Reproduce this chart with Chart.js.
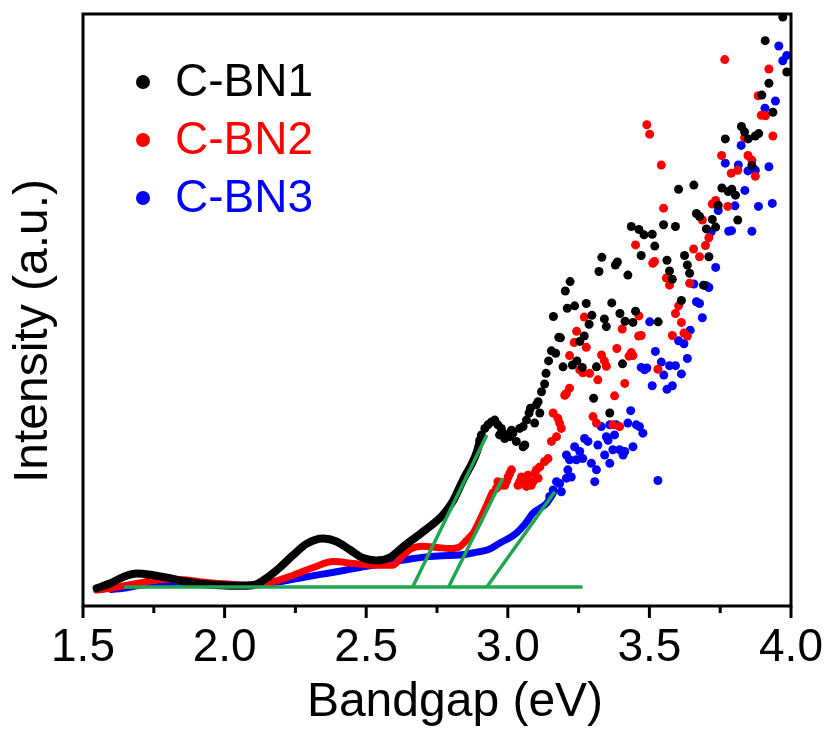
<!DOCTYPE html>
<html>
<head>
<meta charset="utf-8">
<title>Bandgap</title>
<script src="https://cdn.jsdelivr.net/npm/chart.js@4.4.1/dist/chart.umd.min.js"></script>
<style>
  html, body { margin: 0; padding: 0; background: #ffffff; }
  canvas { display: block; }
</style>
</head>
<body>
<canvas id="chart" width="831" height="731"></canvas>
<script>
// Tauc-style bandgap plot for three C-BN samples.
// Each pair is [photon energy (eV), intensity (a.u.)].

const seriesNames = ['C-BN1', 'C-BN2', 'C-BN3'];
const seriesColors = ['#000000', '#ff0000', '#0000ff'];
const fitColor = '#1fa64f';

const xTickValues = [1.5, 2.0, 2.5, 3.0, 3.5, 4.0];

// Smooth low-energy part of each spectrum
const bn1Curve = [
  [1.548,3.0],[1.595,3.8],[1.642,4.9],[1.689,5.5],[1.748,5.2],[1.807,4.7],[1.866,4.1],
  [1.924,3.7],[1.983,3.5],[2.042,3.4],[2.101,3.5],[2.148,4.7],[2.195,6.5],[2.242,8.6],
  [2.289,10.5],[2.348,11.4],[2.395,10.9],[2.442,9.5],[2.489,8.1],[2.536,7.7],[2.583,8.2],
  [2.630,10.0],[2.677,11.7],[2.724,13.4],[2.771,15.4],[2.805,17.6],[2.842,21.3],[2.889,25.8],
  [2.905,28.5]
];
const bn2Curve = [
  [1.548,2.7],[1.600,3.0],[1.642,3.4],[1.700,3.9],[1.748,4.3],[1.810,4.5],[1.866,4.4],
  [1.930,4.0],[1.983,3.8],[2.040,3.6],[2.101,3.5],[2.172,4.1],[2.242,5.2],[2.313,6.5],
  [2.383,7.5],[2.454,7.2],[2.524,6.9],[2.595,6.9],[2.625,8.3],[2.660,9.7],[2.700,10.1],
  [2.750,9.9],[2.795,9.7],[2.830,10.0],[2.854,11.1],[2.877,12.3],[2.901,14.5],[2.925,17.0],
  [2.945,19.2]
];
const bn3Curve = [
  [1.600,2.8],[1.642,3.0],[1.701,3.5],[1.766,3.8],[1.831,4.0],[1.890,3.9],[1.948,3.7],
  [2.007,3.5],[2.066,3.5],[2.148,3.8],[2.242,4.5],[2.300,5.0],[2.360,5.5],[2.420,6.0],
  [2.477,6.5],[2.540,7.0],[2.595,7.5],[2.650,7.9],[2.713,8.3],[2.770,8.5],[2.830,8.6],
  [2.880,9.0],[2.930,9.5],[2.971,10.6],[3.030,12.3],[3.060,13.8],[3.089,15.7],[3.136,17.3],
  [3.160,19.0]
];

// Noisy high-energy readings
const bn1Points = [
  [2.901,28.0],[2.907,28.9],[2.919,30.0],[2.930,30.6],[2.942,31.1],[2.954,31.4],[2.965,30.6],
  [2.971,28.9],[2.977,30.0],[2.983,29.2],[2.989,28.3],[2.995,28.9],[3.007,28.6],[3.013,29.7],
  [3.018,29.2],[3.030,27.8],[3.042,30.0],[3.054,30.3],[3.054,26.9],[3.060,27.2],[3.066,31.4],
  [3.075,32.6],[3.080,33.4],[3.095,30.9],[3.101,34.0],[3.107,34.5],[3.113,32.6],[3.119,36.2],
  [3.130,37.5],[3.135,39.3],[3.144,41.4],[3.154,43.1],[3.161,48.9],[3.169,42.7],[3.180,45.4],
  [3.186,45.3],[3.195,40.4],[3.203,53.2],[3.210,50.3],[3.220,54.8],[3.228,40.7],[3.236,50.7],
  [3.244,41.4],[3.254,44.7],[3.263,40.3],[3.270,45.6],[3.277,51.1],[3.287,47.6],[3.297,49.1],
  [3.303,35.1],[3.313,40.4],[3.322,56.5],[3.332,58.9],[3.341,48.5],[3.348,47.2],[3.360,32.6],
  [3.367,51.2],[3.380,57.6],[3.387,58.1],[3.396,49.4],[3.405,40.9],[3.414,48.1],[3.424,55.9],
  [3.436,64.1],[3.442,47.9],[3.451,49.8],[3.463,63.6],[3.471,59.2],[3.481,62.7],[3.510,62.8],
  [3.519,60.8],[3.531,48.0],[3.550,64.4],[3.562,58.4],[3.571,56.6],[3.581,55.2],[3.592,64.1],
  [3.603,70.4],[3.613,51.6],[3.624,59.2],[3.634,57.6],[3.642,56.2],[3.657,71.1],[3.666,66.3],
  [3.677,65.8],[3.691,54.2],[3.701,63.7],[3.710,59.0],[3.722,65.3],[3.734,64.0],[3.743,67.7],
  [3.756,70.6],[3.768,78.9],[3.778,70.0],[3.791,70.4],[3.804,69.4],[3.812,65.2],[3.825,81.0],
  [3.836,80.1],[3.849,78.9],[3.862,74.4],[3.874,79.4],[3.886,79.8],[3.897,86.3],[3.909,95.5],
  [3.922,88.3],[3.936,83.4],[3.971,99.5],[3.985,90.2]
];
const bn2Points = [
  [2.960,19.9],[2.965,21.0],[2.977,20.4],[2.989,20.4],[2.995,21.0],[3.001,21.8],[3.007,22.4],
  [3.013,23.0],[3.036,20.4],[3.042,21.0],[3.048,21.8],[3.060,21.3],[3.066,20.2],[3.071,22.1],
  [3.083,20.4],[3.089,21.0],[3.095,22.4],[3.101,23.0],[3.107,21.6],[3.113,23.5],[3.130,24.4],
  [3.142,24.9],[3.154,27.8],[3.160,32.6],[3.172,28.6],[3.177,31.7],[3.183,30.9],[3.189,30.0],
  [3.201,35.6],[3.207,35.9],[3.218,36.8],[3.218,42.3],[3.234,44.5],[3.243,46.4],[3.254,39.9],
  [3.265,39.4],[3.270,48.8],[3.277,43.7],[3.289,39.3],[3.301,32.0],[3.313,30.9],[3.318,38.2],
  [3.331,42.4],[3.341,41.4],[3.348,40.5],[3.371,30.6],[3.377,35.5],[3.385,43.5],[3.395,30.3],
  [3.404,46.8],[3.413,37.6],[3.428,42.2],[3.436,42.8],[3.442,42.3],[3.451,61.0],[3.462,45.6],
  [3.463,49.0],[3.471,45.7],[3.491,81.3],[3.501,79.7],[3.512,57.9],[3.518,58.2],[3.530,40.0],
  [3.542,74.5],[3.550,67.2],[3.560,55.4],[3.571,54.2],[3.581,45.7],[3.592,49.4],[3.603,50.7],
  [3.613,47.9],[3.622,46.1],[3.634,45.6],[3.642,54.5],[3.656,60.3],[3.677,59.0],[3.687,65.2],
  [3.698,60.9],[3.710,62.2],[3.722,67.9],[3.734,68.5],[3.755,76.1],[3.766,92.3],[3.777,67.5],
  [3.789,73.1],[3.812,73.6],[3.836,79.1],[3.848,76.1],[3.862,75.3],[3.874,72.6],[3.884,86.2],
  [3.895,82.9],[3.910,82.8],[3.922,90.7],[3.936,79.4]
];
const bn3Points = [
  [3.148,18.5],[3.160,19.6],[3.172,21.0],[3.183,20.7],[3.189,19.3],[3.207,25.5],[3.207,21.6],
  [3.212,23.0],[3.218,24.7],[3.224,21.8],[3.236,26.9],[3.242,24.7],[3.254,26.1],[3.265,24.9],
  [3.271,28.3],[3.283,27.8],[3.295,24.1],[3.307,21.0],[3.313,23.0],[3.318,27.2],[3.330,30.3],
  [3.342,25.5],[3.348,28.6],[3.354,28.0],[3.360,30.6],[3.360,24.1],[3.371,26.4],[3.377,28.9],
  [3.383,30.6],[3.395,26.4],[3.407,25.5],[3.413,26.1],[3.424,30.9],[3.434,33.0],[3.442,26.9],
  [3.454,30.6],[3.465,30.3],[3.477,29.2],[3.471,40.3],[3.483,39.9],[3.491,40.2],[3.501,48.0],
  [3.510,37.2],[3.521,43.0],[3.530,21.2],[3.542,41.2],[3.551,39.0],[3.562,36.6],[3.571,40.6],
  [3.581,37.2],[3.592,40.6],[3.603,44.8],[3.613,39.2],[3.622,44.3],[3.634,41.8],[3.644,46.6],
  [3.657,54.4],[3.666,51.4],[3.677,51.1],[3.687,48.7],[3.701,54.1],[3.710,53.8],[3.718,63.2],
  [3.734,57.2],[3.743,66.8],[3.768,74.8],[3.780,63.3],[3.790,63.4],[3.802,67.6],[3.814,74.5],
  [3.824,77.8],[3.837,70.2],[3.848,73.5],[3.862,63.3],[3.874,73.6],[3.885,67.5],[3.908,84.1],
  [3.922,74.2],[3.934,68.0],[3.945,85.3],[3.957,94.6],[3.971,92.1],[3.985,93.0]
];

// Linear extrapolations used to read the band gaps
const baselineFit = [[1.645,3.2],[3.264,3.2]];
const tangentBN1 = [[2.664,3.2],[2.926,28.9]];
const tangentBN2 = [[2.791,3.2],[2.982,21.6]];
const tangentBN3 = [[2.926,3.2],[3.166,19.3]];

const FONT = "'Liberation Sans', Arial, Helvetica, sans-serif";
const toXY = arr => arr.map(([x, y]) => ({ x, y }));

function curveSet(data, color, width, order) {
  return {
    data: toXY(data), showLine: true, borderColor: color, borderWidth: width,
    pointRadius: 0, cubicInterpolationMode: 'monotone', order,
    borderCapStyle: 'round', borderJoinStyle: 'round'
  };
}
function pointSet(data, color, order) {
  return {
    data: toXY(data), showLine: false, backgroundColor: color, borderColor: color,
    borderWidth: 0, pointRadius: 4.5, order
  };
}
function fitSet(data) {
  return {
    data: toXY(data), showLine: true, borderColor: fitColor, borderWidth: 3.5,
    pointRadius: 0, order: 0
  };
}

// Frame, bottom ticks, axis titles and the legend
const decorations = {
  id: 'decorations',
  afterDraw(chart) {
    const { ctx, chartArea: a, scales } = chart;
    const xs = scales.x;
    ctx.save();
    ctx.strokeStyle = '#000';
    ctx.lineWidth = 3;
    ctx.strokeRect(a.left, a.top, a.right - a.left, a.bottom - a.top);

    ctx.lineWidth = 3;
    for (let v = 1.5; v <= 4.0001; v += 0.25) {
      const px = xs.getPixelForValue(v);
      const major = Math.abs(v * 2 - Math.round(v * 2)) < 1e-6;
      ctx.beginPath();
      ctx.moveTo(px, a.bottom);
      ctx.lineTo(px, a.bottom + (major ? 12 : 7));
      ctx.stroke();
    }

    ctx.fillStyle = '#000';
    ctx.font = '48px ' + FONT;
    ctx.textAlign = 'center';
    ctx.textBaseline = 'alphabetic';
    ctx.fillText('Bandgap (eV)', 455, 716);

    ctx.save();
    ctx.translate(47, 331);
    ctx.rotate(-Math.PI / 2);
    ctx.fillText('Intensity (a.u.)', 0, 0);
    ctx.restore();

    ctx.font = '46px ' + FONT;
    ctx.textAlign = 'left';
    ctx.textBaseline = 'middle';
    const rows = [82, 140, 198];
    seriesNames.forEach((name, i) => {
      ctx.fillStyle = seriesColors[i];
      ctx.beginPath();
      ctx.arc(143, rows[i], 7, 0, Math.PI * 2);
      ctx.fill();
      ctx.fillText(name, 175, rows[i] + 1);
    });
    ctx.restore();
  }
};

new Chart(document.getElementById('chart'), {
  type: 'scatter',
  data: {
    datasets: [
      fitSet(baselineFit), fitSet(tangentBN1), fitSet(tangentBN2), fitSet(tangentBN3),
      curveSet(bn1Curve, seriesColors[0], 8, 1),
      pointSet(bn1Points, seriesColors[0], 1),
      curveSet(bn2Curve, seriesColors[1], 7, 2),
      pointSet(bn2Points, seriesColors[1], 2),
      curveSet(bn3Curve, seriesColors[2], 7, 3),
      pointSet(bn3Points, seriesColors[2], 3)
    ]
  },
  options: {
    responsive: false,
    animation: false,
    devicePixelRatio: 1,
    layout: { padding: { top: 14, right: 40, left: 0, bottom: 0 } },
    plugins: { legend: { display: false }, tooltip: { enabled: false } },
    scales: {
      x: {
        type: 'linear', min: 1.5, max: 4.0,
        afterBuildTicks: s => { s.ticks = xTickValues.map(v => ({ value: v })); },
        afterFit: s => { s.height = 125; s.paddingLeft = 0; s.paddingRight = 0; },
        grid: { display: false, drawTicks: false },
        border: { display: false },
        ticks: {
          color: '#000', padding: 15, maxRotation: 0, autoSkip: false,
          font: { family: FONT, size: 46 },
          callback: v => Number(v).toFixed(1)
        }
      },
      y: {
        type: 'linear', min: 0, max: 100,
        afterFit: s => { s.width = 83; },
        grid: { display: false, drawTicks: false },
        border: { display: false },
        ticks: { display: false }
      }
    }
  },
  plugins: [decorations]
});
</script>
</body>
</html>
